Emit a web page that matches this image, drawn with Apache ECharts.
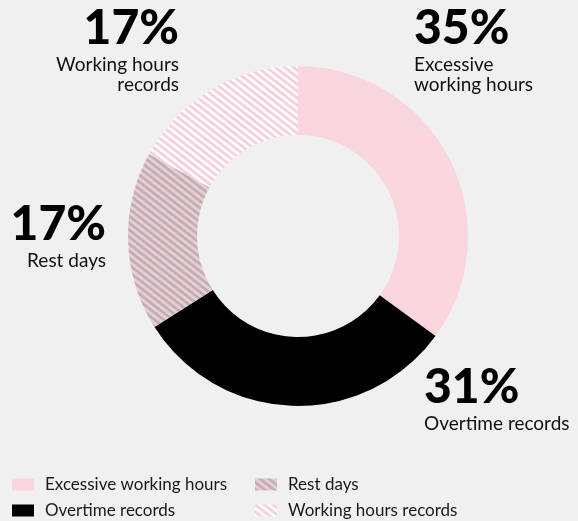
<!DOCTYPE html>
<html>
<head>
<meta charset="utf-8">
<script src="https://cdn.jsdelivr.net/npm/echarts@6/dist/echarts.min.js"></script>
<style>
html,body{margin:0;padding:0;background:#f0f0f0;}
#chart{width:578px;height:521px;}
</style>
</head>
<body>
<div id="chart"></div>
<script>
const categories = ['Excessive working hours', 'Overtime records', 'Rest days', 'Working hours records'];
const values = [35, 31, 17, 17];
const labelNames = ['Excessive\nworking hours', 'Overtime records', 'Rest days', 'Working hours\nrecords'];

const labelPos = [
  {x: 414, y: 3, align: 'left'},
  {x: 424, y: 362, align: 'left'},
  {x: 106, y: 199, align: 'right'},
  {x: 179, y: 3, align: 'right'}
];
const legendPos = [
  {left: 7, top: 471},
  {left: 7, top: 497},
  {left: 250, top: 471},
  {left: 250, top: 497}
];

function stripes(bg, fg) {
  const w = 9, h = 7;
  const c = document.createElement('canvas');
  c.width = w; c.height = h;
  const g = c.getContext('2d');
  g.fillStyle = bg; g.fillRect(0, 0, w, h);
  g.strokeStyle = fg; g.lineWidth = 2.8;
  for (const o of [-w, 0, w]) {
    g.beginPath(); g.moveTo(o - w, -h); g.lineTo(o + 2 * w, 2 * h); g.stroke();
  }
  return c;
}

const colors = [
  '#f9d5dd',
  '#000000',
  {image: stripes('#b4b4b4', '#f5c9d4'), repeat: 'repeat'},
  {image: stripes('#ffffff', '#f7cfd9'), repeat: 'repeat'}
];

const data = categories.map((name, i) => ({
  name: name,
  value: values[i],
  itemStyle: {color: colors[i]},
  label: {
    align: labelPos[i].align,
    formatter: '{v|' + values[i] + '%}\n{n|' + labelNames[i].split('\n').join('}\n{n|') + '}'
  }
}));

const legendText = {fontSize: 17, color: '#1a1a1a', fontFamily: 'Lato', padding: [0, 0, 0, 6]};

const chart = echarts.init(document.getElementById('chart'), null, {renderer: 'canvas'});
chart.setOption({
  backgroundColor: '#f0f0f0',
  animation: false,
  legend: categories.map((c, i) => ({
    data: [c], left: legendPos[i].left, top: legendPos[i].top, icon: 'rect',
    itemWidth: 22, itemHeight: 12, textStyle: legendText, selectedMode: false
  })),
  series: [{
    type: 'pie',
    center: [298, 236],
    radius: [101, 170],
    startAngle: 90,
    clockwise: true,
    emphasis: {disabled: true},
    labelLine: {show: false},
    label: {
      show: true,
      position: 'outside',
      overflow: 'none',
      fontFamily: 'Lato',
      rich: {
        v: {fontSize: 48, fontWeight: 900, fontFamily: 'Lato', color: '#000', lineHeight: 52},
        n: {fontSize: 19, fontFamily: 'Lato', color: '#111', lineHeight: 20}
      }
    },
    labelLayout: function (p) {
      const L = labelPos[p.dataIndex];
      return {x: L.x, y: L.y, align: L.align, verticalAlign: 'top', hideOverlap: false, moveOverlap: null};
    },
    data: data
  }]
});
</script>
</body>
</html>
